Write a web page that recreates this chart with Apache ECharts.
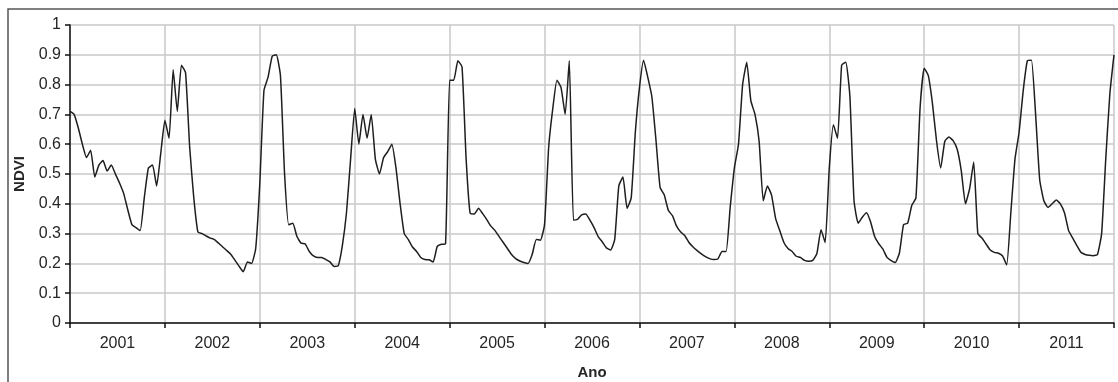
<!DOCTYPE html>
<html>
<head>
<meta charset="utf-8">
<script src="https://cdn.jsdelivr.net/npm/echarts@6/dist/echarts.min.js"></script>
<style>
  html, body { margin: 0; padding: 0; background: #fff; }
  #main { width: 1118px; height: 382px; }
</style>
</head>
<body>
<div id="main"></div>
<script>
// anos (eixo x) e NDVI a cada 16 dias (23 compostos por ano)
const years = ['2001', '2002', '2003', '2004', '2005', '2006', '2007', '2008', '2009', '2010', '2011'];

const ndvi2001 = [0.71, 0.70, 0.655, 0.60, 0.555, 0.58, 0.49, 0.53, 0.545, 0.51, 0.53, 0.50, 0.47, 0.435, 0.38, 0.33, 0.32, 0.31, 0.42, 0.52, 0.53, 0.46, 0.57];
const ndvi2002 = [0.68, 0.62, 0.85, 0.71, 0.865, 0.84, 0.59, 0.42, 0.305, 0.30, 0.292, 0.285, 0.28, 0.268, 0.255, 0.243, 0.23, 0.21, 0.19, 0.172, 0.205, 0.20, 0.25];
const ndvi2003 = [0.47, 0.78, 0.825, 0.895, 0.90, 0.83, 0.50, 0.33, 0.335, 0.29, 0.268, 0.265, 0.24, 0.225, 0.22, 0.22, 0.213, 0.205, 0.19, 0.192, 0.26, 0.37, 0.55];
const ndvi2004 = [0.72, 0.60, 0.70, 0.62, 0.70, 0.55, 0.50, 0.555, 0.575, 0.60, 0.52, 0.40, 0.30, 0.28, 0.255, 0.24, 0.22, 0.213, 0.212, 0.205, 0.257, 0.264, 0.265];
const ndvi2005 = [0.815, 0.815, 0.88, 0.86, 0.55, 0.367, 0.366, 0.385, 0.367, 0.347, 0.325, 0.31, 0.29, 0.27, 0.25, 0.23, 0.216, 0.208, 0.203, 0.20, 0.23, 0.28, 0.278];
const ndvi2006 = [0.33, 0.59, 0.72, 0.815, 0.79, 0.70, 0.88, 0.345, 0.348, 0.363, 0.366, 0.345, 0.32, 0.29, 0.272, 0.252, 0.245, 0.28, 0.46, 0.49, 0.385, 0.42, 0.64];
const ndvi2007 = [0.79, 0.882, 0.826, 0.76, 0.614, 0.455, 0.43, 0.378, 0.36, 0.325, 0.305, 0.293, 0.27, 0.255, 0.243, 0.232, 0.223, 0.216, 0.213, 0.215, 0.24, 0.24, 0.39];
const ndvi2008 = [0.52, 0.60, 0.80, 0.875, 0.745, 0.70, 0.61, 0.41, 0.46, 0.43, 0.35, 0.31, 0.27, 0.25, 0.24, 0.224, 0.22, 0.21, 0.207, 0.21, 0.233, 0.313, 0.27];
const ndvi2009 = [0.52, 0.665, 0.62, 0.865, 0.875, 0.76, 0.41, 0.335, 0.355, 0.37, 0.34, 0.29, 0.266, 0.248, 0.22, 0.209, 0.203, 0.235, 0.33, 0.335, 0.395, 0.42, 0.72];
const ndvi2010 = [0.855, 0.83, 0.737, 0.61, 0.52, 0.61, 0.624, 0.612, 0.583, 0.51, 0.40, 0.45, 0.54, 0.30, 0.285, 0.265, 0.245, 0.237, 0.234, 0.225, 0.195, 0.37, 0.55];
const ndvi2011 = [0.64, 0.78, 0.88, 0.882, 0.70, 0.48, 0.41, 0.388, 0.40, 0.413, 0.40, 0.37, 0.31, 0.285, 0.26, 0.237, 0.23, 0.227, 0.226, 0.23, 0.30, 0.55, 0.77];
const ndviEnd = [0.90];

const perYear = 23;
const ndvi = [].concat(ndvi2001, ndvi2002, ndvi2003, ndvi2004, ndvi2005, ndvi2006,
  ndvi2007, ndvi2008, ndvi2009, ndvi2010, ndvi2011, ndviEnd);
const lineData = ndvi.map((v, i) => [i, v]);

const chart = echarts.init(document.getElementById('main'));
const txt = '#262626';
const gridColor = '#c8c8c8';

chart.setOption({
  animation: false,
  backgroundColor: '#fff',
  textStyle: { fontFamily: 'Liberation Sans, Arial, sans-serif' },
  grid: { left: 70, right: 4, top: 25, bottom: 59, containLabel: false, outerBoundsMode: 'none' },
  graphic: [{
    type: 'rect',
    shape: { x: 8, y: 9, width: 1120, height: 380 },
    style: { fill: 'none', stroke: '#555', lineWidth: 1.5 },
    silent: true
  }],
  xAxis: [{
    type: 'category',
    data: years,
    boundaryGap: true,
    axisLine: { lineStyle: { color: '#111', width: 1.5 } },
    axisTick: { show: true, length: 5, lineStyle: { color: '#111', width: 1.5 } },
    axisLabel: { color: txt, fontSize: 16, margin: 13 },
    splitLine: { show: true, lineStyle: { color: gridColor, width: 1.5 } },
    name: 'Ano',
    nameLocation: 'middle',
    nameGap: 42,
    nameTextStyle: { color: txt, fontSize: 15, fontWeight: 'bold' }
  }, {
    type: 'value',
    min: 0,
    max: years.length * perYear,
    show: false
  }],
  yAxis: {
    type: 'value',
    min: 0,
    max: 1,
    interval: 0.1,
    axisLine: { show: true, lineStyle: { color: '#111', width: 1.5 } },
    axisTick: { show: true, length: 5, lineStyle: { color: '#111', width: 1.5 } },
    axisLabel: { color: txt, fontSize: 16, margin: 9 },
    splitLine: { show: true, lineStyle: { color: gridColor, width: 1.5 } },
    name: 'NDVI',
    nameLocation: 'middle',
    nameGap: 42,
    nameTextStyle: { color: txt, fontSize: 15, fontWeight: 'bold' }
  },
  series: [{
    type: 'line',
    xAxisIndex: 1,
    data: lineData,
    showSymbol: false,
    smooth: 0.15,
    lineStyle: { color: '#1e1e1e', width: 1.5 }
  }]
});
</script>
</body>
</html>
